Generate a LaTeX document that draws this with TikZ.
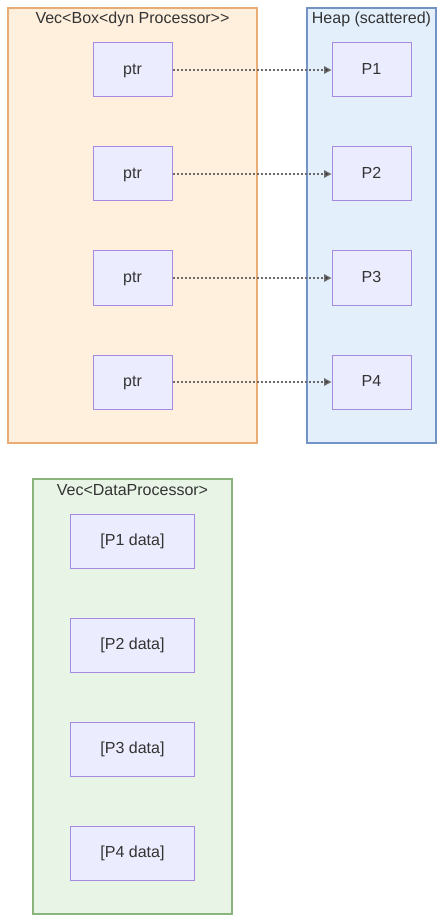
\documentclass[tikz,border=0pt]{standalone}
\usepackage{fontspec}
\setmainfont{Liberation Sans}
\usetikzlibrary{arrows.meta}

\definecolor{txt}{HTML}{333333}
\definecolor{boxfill}{HTML}{ECECFF}
\definecolor{boxdraw}{HTML}{A58BE0}
\definecolor{vecfill}{HTML}{FFF0DD}
\definecolor{vecdraw}{HTML}{E8AC74}
\definecolor{heapfill}{HTML}{E3F0FC}
\definecolor{heapdraw}{HTML}{7293C4}
\definecolor{datafill}{HTML}{E8F4E6}
\definecolor{datadraw}{HTML}{8AB47C}
\definecolor{linkgray}{HTML}{6A6A6A}

\tikzset{
  cell/.style={draw=boxdraw, fill=boxfill, line width=0.75pt, text=txt,
    minimum width=59.25pt, minimum height=40.5pt, inner sep=0pt,
    text height=8.6pt, text depth=2.4pt,
    font=\fontsize{12}{14}\selectfont},
  widecell/.style={cell, minimum width=93pt},
  cluster/.style={line width=0.85pt, minimum height=326.25pt, inner sep=0pt},
  title/.style={text=txt, inner sep=0pt, font=\fontsize{12}{14}\selectfont},
  ref/.style={-{Triangle[length=5.5pt,width=5.5pt,fill=txt]}, draw=linkgray,
    line width=1.1pt, dash pattern=on 1.5pt off 1.5pt}
}

\begin{document}
\begin{tikzpicture}[x=0.75pt,y=-0.75pt]

\useasboundingbox (0,0) rectangle (445,923);

%clusters
\node [cluster, draw=vecdraw, fill=vecfill, minimum width=186.75pt] (vec-box) at (132.5,225.5){};
\node [cluster, draw=heapdraw, fill=heapfill, minimum width=96.75pt] (heap) at (371.5,225.5){};
\node [cluster, draw=datadraw, fill=datafill, minimum width=149.25pt] (vec-data) at (132.5,696.5){};

\node [title] (vec-box-title) at (132.5,19){Vec<Box<dyn Processor>{}>};
\node [title] (heap-title) at (371.5,19){Heap (scattered)};
\node [title] (vec-data-title) at (132.5,490){Vec<DataProcessor>};



\node [cell] (ptr-1) at (132.5,70){ptr};
\node [cell] (heap-p1) at (371.5,70){P1};
\draw [ref]   (ptr-1.east) -- (heap-p1.west);


\node [cell] (ptr-2) at (132.5,174){ptr};
\node [cell] (heap-p2) at (371.5,174){P2};
\draw [ref]   (ptr-2.east) -- (heap-p2.west);


\node [cell] (ptr-3) at (132.5,278){ptr};
\node [cell] (heap-p3) at (371.5,278){P3};
\draw [ref]   (ptr-3.east) -- (heap-p3.west);


\node [cell] (ptr-4) at (132.5,382){ptr};
\node [cell] (heap-p4) at (371.5,382){P4};
\draw [ref]   (ptr-4.east) -- (heap-p4.west);



\node [widecell] (data-1) at (132.5,541){[P1 data]};
\node [widecell] (data-2) at (132.5,645){[P2 data]};
\node [widecell] (data-3) at (132.5,749){[P3 data]};
\node [widecell] (data-4) at (132.5,853){[P4 data]};

\end{tikzpicture}
\end{document}
